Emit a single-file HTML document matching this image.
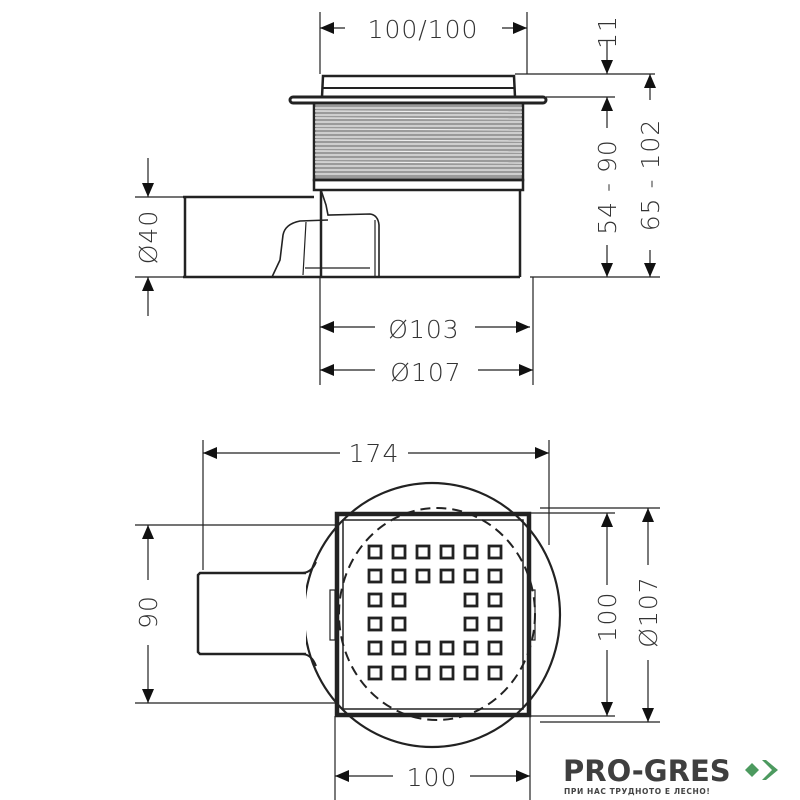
<!DOCTYPE html>
<html><head><meta charset="utf-8"><style>
html,body{margin:0;padding:0;background:#fff}
svg{display:block}
text{font-family:"DejaVu Sans","Liberation Sans",sans-serif;fill:#333}
</style></head><body>
<svg width="800" height="800" viewBox="0 0 800 800" xmlns="http://www.w3.org/2000/svg">
<defs>
<marker id="a" viewBox="0 0 14 12" refX="14" refY="6" markerWidth="14" markerHeight="12" markerUnits="userSpaceOnUse" orient="auto-start-reverse"><path d="M0,0L14,6L0,12z" fill="#111"/></marker>
</defs>
<g stroke="#222" fill="none" stroke-width="1.2">
<line x1="320" y1="12" x2="320" y2="74"/><line x1="527" y1="12" x2="527" y2="74"/>
<line x1="515" y1="74" x2="655" y2="74"/><line x1="546" y1="97" x2="615" y2="97"/>
<line x1="530" y1="277" x2="660" y2="277"/>
<line x1="135" y1="197" x2="185" y2="197"/><line x1="135" y1="277" x2="185" y2="277"/>
<line x1="320" y1="277" x2="320" y2="385"/><line x1="533" y1="277" x2="533" y2="385"/>
<line x1="320" y1="28" x2="345" y2="28" marker-start="url(#a)"/>
<line x1="502" y1="28" x2="527" y2="28" marker-end="url(#a)"/>
<line x1="607" y1="40" x2="607" y2="74" marker-end="url(#a)"/>
<line x1="607" y1="97" x2="607" y2="128" marker-start="url(#a)"/>
<line x1="607" y1="245" x2="607" y2="277" marker-end="url(#a)"/>
<line x1="650" y1="74" x2="650" y2="100" marker-start="url(#a)"/>
<line x1="650" y1="250" x2="650" y2="277" marker-end="url(#a)"/>
<line x1="148" y1="158" x2="148" y2="197" marker-end="url(#a)"/>
<line x1="148" y1="316" x2="148" y2="277" marker-end="url(#a)"/>
<line x1="320" y1="327" x2="375" y2="327" marker-start="url(#a)"/>
<line x1="475" y1="327" x2="530" y2="327" marker-end="url(#a)"/>
<line x1="320" y1="370" x2="375" y2="370" marker-start="url(#a)"/>
<line x1="478" y1="370" x2="533" y2="370" marker-end="url(#a)"/>
<path d="M322,97 L323,76 L514,76 L515,97" stroke-width="2.5"/>
<line x1="323" y1="88" x2="514" y2="88" stroke-width="2"/>
<rect x="290" y="97" width="256" height="6" rx="3" stroke-width="3"/>
<rect x="314" y="103" width="209" height="77" stroke-width="2.5" fill="#9a9a9a"/>
<g stroke-width="1.2" stroke="#eee">
<line x1="315" y1="108" x2="522" y2="108"/><line x1="315" y1="111" x2="522" y2="112"/><line x1="315" y1="115" x2="522" y2="115"/><line x1="315" y1="118" x2="522" y2="119"/><line x1="315" y1="122" x2="522" y2="122"/><line x1="315" y1="126" x2="522" y2="126"/><line x1="315" y1="129" x2="522" y2="130"/><line x1="315" y1="133" x2="522" y2="133"/><line x1="315" y1="137" x2="522" y2="137"/><line x1="315" y1="140" x2="522" y2="141"/><line x1="315" y1="144" x2="522" y2="144"/><line x1="315" y1="148" x2="522" y2="148"/><line x1="315" y1="151" x2="522" y2="152"/><line x1="315" y1="155" x2="522" y2="155"/><line x1="315" y1="159" x2="522" y2="159"/><line x1="315" y1="162" x2="522" y2="163"/><line x1="315" y1="166" x2="522" y2="166"/><line x1="315" y1="170" x2="522" y2="170"/><line x1="315" y1="174" x2="522" y2="174"/>
</g>
<rect x="314" y="180" width="209" height="10" stroke-width="2.5"/>
<path d="M321,190 L321,277 M520,190 L520,277" stroke-width="2.5"/>
<line x1="183" y1="277" x2="520" y2="277" stroke-width="2.5"/>
<path d="M183,197 L314,197 M185,197 L185,277" stroke-width="2.5"/>
<path d="M321,190 L326,205 L328,215 L370,214 Q378,215 379,225 L379,277" stroke-width="1.6"/>
<path d="M328,220 L300,221 Q285,224 283,235 L280,260 L272,277" stroke-width="1.6"/>
<path d="M306,222 L303,275 M375,220 L375,277 M305,268 L370,268" stroke-width="1.2"/>
<line x1="203" y1="440" x2="203" y2="570"/><line x1="549" y1="440" x2="549" y2="545"/>
<line x1="203" y1="453" x2="340" y2="453" marker-start="url(#a)"/>
<line x1="408" y1="453" x2="549" y2="453" marker-end="url(#a)"/>
<line x1="135" y1="525" x2="335" y2="525"/><line x1="135" y1="703" x2="335" y2="703"/>
<line x1="148" y1="525" x2="148" y2="580" marker-start="url(#a)"/>
<line x1="148" y1="645" x2="148" y2="703" marker-end="url(#a)"/>
<line x1="530" y1="513" x2="615" y2="513"/><line x1="530" y1="716" x2="615" y2="716"/>
<line x1="540" y1="508" x2="660" y2="508"/><line x1="540" y1="722" x2="660" y2="722"/>
<line x1="607" y1="513" x2="607" y2="585" marker-start="url(#a)"/>
<line x1="607" y1="650" x2="607" y2="716" marker-end="url(#a)"/>
<line x1="648" y1="508" x2="648" y2="565" marker-start="url(#a)"/>
<line x1="648" y1="660" x2="648" y2="722" marker-end="url(#a)"/>
<line x1="335" y1="716" x2="335" y2="800"/><line x1="530" y1="716" x2="530" y2="800"/>
<line x1="335" y1="776" x2="393" y2="776" marker-start="url(#a)"/>
<line x1="470" y1="776" x2="530" y2="776" marker-end="url(#a)"/>
<ellipse cx="432" cy="615" rx="128" ry="132" stroke-width="2.2"/>
<path d="M306,573 L200,573 L198,575 L198,652 L200,654 L306,654" fill="#fff" stroke-width="2.5"/>
<path d="M303,573 Q312,572 316,562 M303,654 Q312,655 316,666" stroke-width="2"/>
<rect x="330" y="590" width="5" height="50" stroke-width="1.2"/>
<rect x="530" y="590" width="5" height="50" stroke-width="1.2"/>
<ellipse cx="437" cy="614" rx="98" ry="106" stroke-width="2" stroke-dasharray="10 6"/>
<rect x="337" y="514" width="192" height="201" stroke-width="4.5"/>
<rect x="343" y="520" width="180" height="189" stroke-width="1.5"/>
<g stroke-width="2.8" fill="none">
<rect x="369" y="546" width="12" height="12"/><rect x="393" y="546" width="12" height="12"/><rect x="417" y="546" width="12" height="12"/><rect x="441" y="546" width="12" height="12"/><rect x="465" y="546" width="12" height="12"/><rect x="489" y="546" width="12" height="12"/>
<rect x="369" y="570" width="12" height="12"/><rect x="393" y="570" width="12" height="12"/><rect x="417" y="570" width="12" height="12"/><rect x="441" y="570" width="12" height="12"/><rect x="465" y="570" width="12" height="12"/><rect x="489" y="570" width="12" height="12"/>
<rect x="369" y="594" width="12" height="12"/><rect x="393" y="594" width="12" height="12"/><rect x="465" y="594" width="12" height="12"/><rect x="489" y="594" width="12" height="12"/>
<rect x="369" y="618" width="12" height="12"/><rect x="393" y="618" width="12" height="12"/><rect x="465" y="618" width="12" height="12"/><rect x="489" y="618" width="12" height="12"/>
<rect x="369" y="642" width="12" height="12"/><rect x="393" y="642" width="12" height="12"/><rect x="417" y="642" width="12" height="12"/><rect x="441" y="642" width="12" height="12"/><rect x="465" y="642" width="12" height="12"/><rect x="489" y="642" width="12" height="12"/>
<rect x="369" y="667" width="12" height="12"/><rect x="393" y="667" width="12" height="12"/><rect x="417" y="667" width="12" height="12"/><rect x="441" y="667" width="12" height="12"/><rect x="465" y="667" width="12" height="12"/><rect x="489" y="667" width="12" height="12"/>
</g>
</g>
<g font-size="25" font-weight="200" letter-spacing="1">
<text x="423" y="38" text-anchor="middle">100/100</text>
<text x="424" y="338" text-anchor="middle">Ø103</text>
<text x="426" y="381" text-anchor="middle">Ø107</text>
<text x="374" y="462" text-anchor="middle">174</text>
<text x="432" y="786" text-anchor="middle">100</text>
<text transform="translate(157,237) rotate(-90)" text-anchor="middle">Ø40</text>
<text transform="translate(157,612) rotate(-90)" text-anchor="middle">90</text>
<text transform="translate(616,617) rotate(-90)" text-anchor="middle">100</text>
<text transform="translate(657,612) rotate(-90)" text-anchor="middle">Ø107</text>
<text transform="translate(616,187) rotate(-90)" text-anchor="middle">54 - 90</text>
<text transform="translate(659,175) rotate(-90)" text-anchor="middle">65 - 102</text>
<text transform="translate(616,32) rotate(-90)" text-anchor="middle">11</text>
</g>
<text x="563" y="781" font-family="Liberation Sans" font-weight="bold" font-size="29" style="fill:#3f3f3f">PRO-GRES</text>
<text x="564" y="794" font-family="Liberation Sans" font-weight="bold" font-size="7.5" style="fill:#444" letter-spacing="0.6">ПРИ НАС ТРУДНОТО Е ЛЕСНО!</text>
<path d="M745,770 L752,763 L759,770 L752,777z" fill="#4c9a5f"/>
<path d="M762,760 L772,770 L762,780 L766,780 L778,770 L766,760z" fill="#4c9a5f"/>
</svg>
</body></html>
